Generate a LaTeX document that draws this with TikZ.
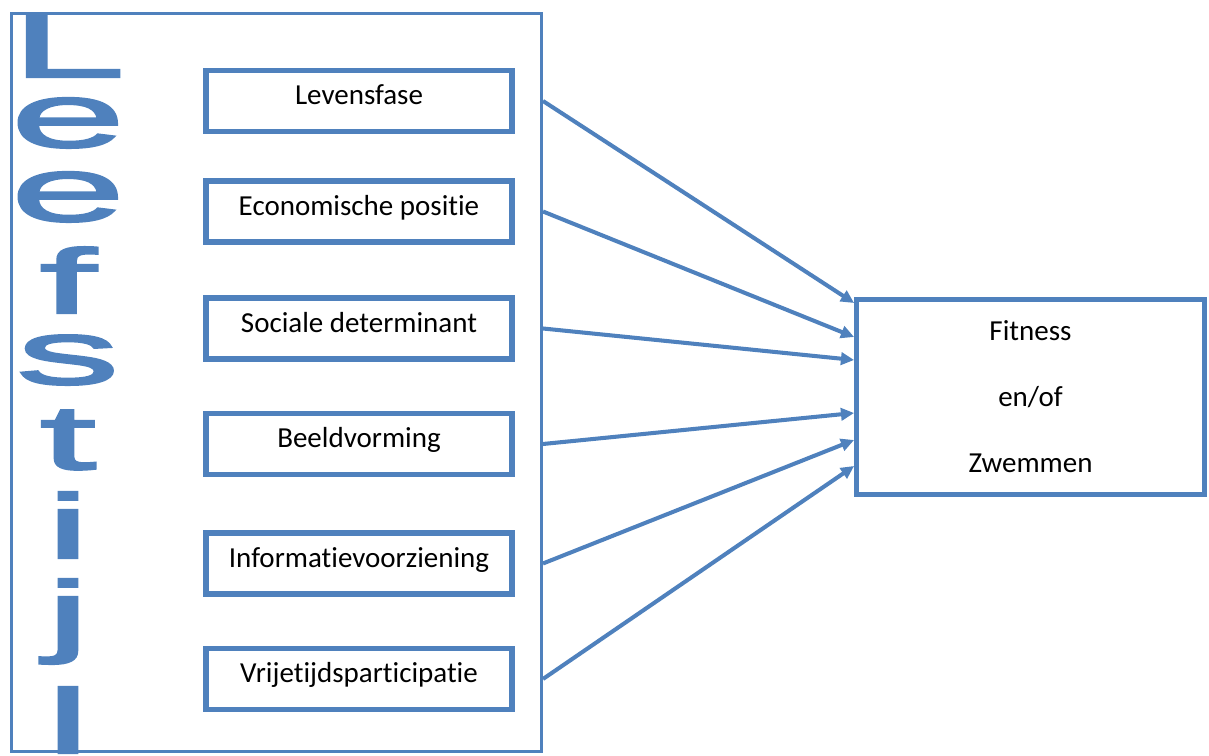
\documentclass[tikz,border=0pt]{standalone}
\usepackage{fontspec}
\setmainfont{Carlito}[Ligatures=CommonOff]
\newfontfamily\leeffont[FakeStretch=2.3, FakeBold=2.5]{Liberation Sans}
\usetikzlibrary{arrows.meta}
\definecolor{officeblue}{HTML}{4F81BD}

\begin{document}
\begin{tikzpicture}[
    factor/.style={draw=officeblue, line width=3.4pt, minimum width=6.12cm,
      minimum height=1.22cm, inner sep=0pt, text height=11pt, text depth=6.5pt,
      font=\fontsize{16.5}{20}\selectfont},
    letter/.style={anchor=base, inner sep=0pt, text=officeblue,
      font=\leeffont\fontsize{51.8}{60}\selectfont},
    influence/.style={draw=officeblue, line width=2.3pt,
      -{Triangle[length=7.5pt,width=7pt]}}
  ]
  \useasboundingbox (0, 0) rectangle (24.18, 15.12);

  \node[draw=officeblue, line width=1.7pt, minimum width=10.6cm,
    minimum height=14.76cm] (frame) at (5.53, 7.47) {};

  \node[letter] (L) at (1.36, 13.58) {L};
  \node[letter] (e1) at (1.36, 12.18) {e};
  \node[letter] (e2) at (1.36, 10.7) {e};
  \node[letter] (f) at (1.36, 8.86) {f};
  \node[letter] (s) at (1.36, 7.44) {s};
  \node[letter] (t) at (1.36, 5.74) {t};
  \node[letter] (i) at (1.36, 3.96) {i};
  \node[letter] (j) at (1.36, 2.22) {j};
  \node[letter] (l) at (1.36, 0.06) {l};

  \node[factor] (levensfase) at (7.18, 13.1) {Levensfase};
  \node[factor] (economisch) at (7.18, 10.89) {Economische positie};
  \node[factor] (sociaal) at (7.18, 8.55) {Sociale determinant};
  \node[factor] (beeld) at (7.18, 6.24) {Beeldvorming};
  \node[factor] (informatie) at (7.18, 3.85) {Informatievoorziening};
  \node[factor] (vrijetijd) at (7.18, 1.54) {Vrijetijdsparticipatie};

  \node[draw=officeblue, line width=3pt, minimum width=6.95cm,
    minimum height=3.89cm, align=center,
    font=\fontsize{16.5}{37.6}\selectfont] (sport) at (20.61, 7.18)
    {Fitness\\en/of\\Zwemmen};

  \draw[influence] (frame.east |- levensfase) -- ([yshift=1.88cm]sport.west);
  \draw[influence] (frame.east |- economisch) -- ([yshift=1.2cm]sport.west);
  \draw[influence] (frame.east |- sociaal) -- ([yshift=0.74cm]sport.west);
  \draw[influence] (frame.east |- beeld) -- ([yshift=-0.32cm]sport.west);
  \draw[influence] (frame.east |- informatie) -- ([yshift=-0.86cm]sport.west);
  \draw[influence] (frame.east |- vrijetijd) -- ([yshift=-1.38cm]sport.west);
\end{tikzpicture}
\end{document}
